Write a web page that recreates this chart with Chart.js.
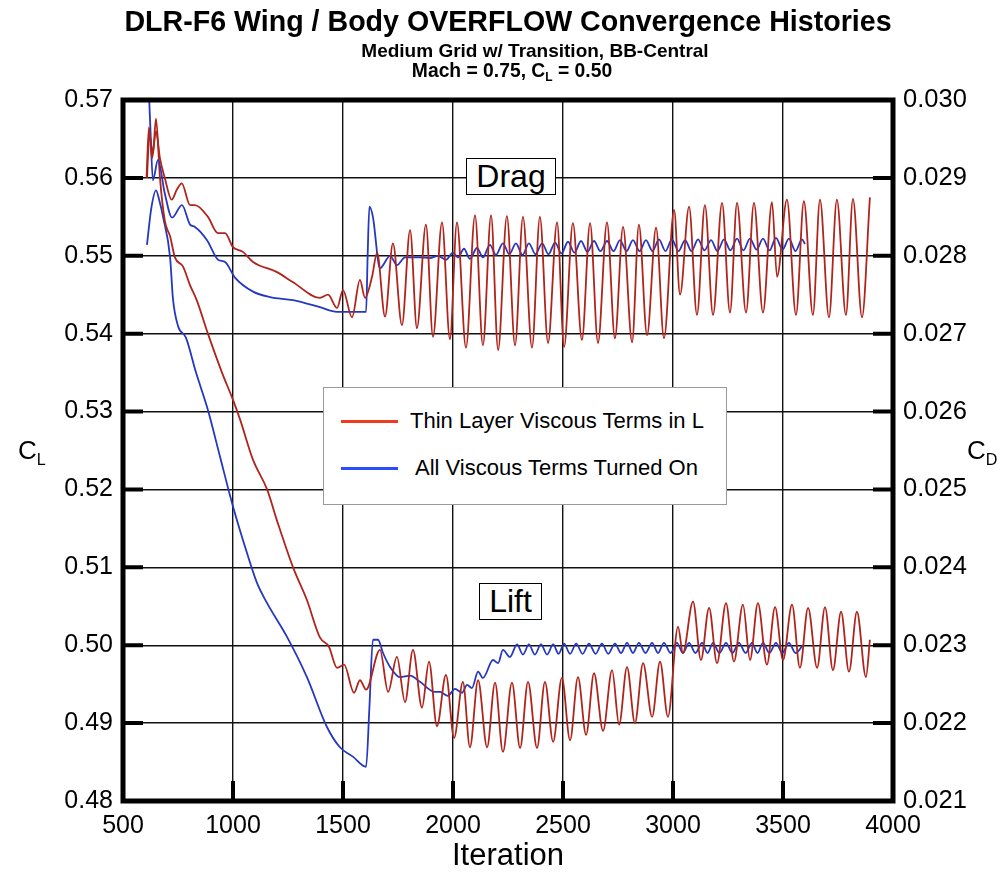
<!DOCTYPE html>
<html>
<head>
<meta charset="utf-8">
<script src="https://cdn.jsdelivr.net/npm/chart.js@4.4.1/dist/chart.umd.min.js"></script>
<style>
  body { margin: 0; background: #fff; font-family: "Liberation Sans", Arial, Helvetica, sans-serif; }
  #wrap { position: relative; width: 1005px; height: 872px; }
  .txt { position: absolute; white-space: nowrap; color: #000; }
  .title { text-align: center; font-weight: bold; }
  .box { position: absolute; background: #fff; box-sizing: border-box; }
  .tag { border: 1.5px solid #000; font-size: 32px; text-align: center; line-height: 34px; }
  .legline { position: absolute; height: 3px; width: 57px; }
  sub { font-size: 62%; vertical-align: -0.35em; }
</style>
</head>
<body>
<div id="wrap">
  <canvas id="chart" width="1005" height="872"></canvas>
  <div class="txt title" style="left:0;width:1016px;top:7px;font-size:28.6px;line-height:28px">DLR-F6 Wing / Body OVERFLOW Convergence Histories</div>
  <div class="txt title" style="left:235px;width:600px;top:41px;font-size:19px;line-height:19px">Medium Grid w/ Transition, BB-Central</div>
  <div class="txt title" style="left:212px;width:600px;top:61px;font-size:19.3px;line-height:19px">Mach = 0.75, C<sub>L</sub> = 0.50</div>
  <div class="txt" style="left:18px;top:436px;font-size:26px;line-height:28px">C<sub>L</sub></div>
  <div class="txt" style="left:967px;top:436px;font-size:26px;line-height:28px">C<sub>D</sub></div>
  <div class="box tag" style="left:466px;top:158px;width:90px;height:37px">Drag</div>
  <div class="box tag" style="left:479px;top:583px;width:63px;height:37px">Lift</div>
  <div class="box" style="left:323px;top:387px;width:404px;height:118px;border:1.5px solid #9a9a9a">
    <div class="legline" style="left:17px;top:32px;background:#f03c1e"></div>
    <div class="txt" style="left:86px;top:20px;font-size:22px;line-height:26px">Thin Layer Viscous Terms in L</div>
    <div class="legline" style="left:17px;top:79px;background:#2a4cff"></div>
    <div class="txt" style="left:91px;top:67px;font-size:22px;line-height:26px">All Viscous Terms Turned On</div>
  </div>
</div>
<script>
// iteration / value pairs
const dragThinIter = [607, 618, 632, 650, 668, 690, 721, 745, 767, 805, 827, 886, 932, 964, 1000, 1045, 1091, 1200, 1273, 1395,
  1432, 1473, 1500, 1541, 1577, 1600, 1632, 1655, 1691, 1727, 1768, 1805, 1836, 1877, 1909, 1950, 1986, 2018, 2059, 2100,
  2136, 2173, 2205, 2245, 2282, 2318, 2359, 2395, 2432, 2473, 2505, 2545, 2586, 2623, 2659, 2700, 2736, 2773, 2814, 2845,
  2882, 2923, 2959, 3005, 3032, 3073, 3109, 3145, 3182, 3223, 3259, 3291, 3332, 3368, 3409, 3450, 3473, 3518, 3559, 3595,
  3636, 3668, 3709, 3745, 3786, 3818, 3859, 3895]
const dragThin = [0.02900, 0.02965, 0.02925, 0.02960, 0.02925, 0.02900, 0.02872, 0.02885, 0.02893, 0.02865, 0.02865, 0.02850, 0.02829, 0.02829, 0.02811, 0.02805, 0.02792, 0.02779, 0.02766, 0.02746,
  0.02750, 0.02733, 0.02756, 0.02721, 0.02769, 0.02746, 0.02773, 0.02804, 0.02722, 0.02816, 0.02711, 0.02833, 0.02707, 0.02840, 0.02696, 0.02843, 0.02693, 0.02843, 0.02682, 0.02852,
  0.02685, 0.02852, 0.02679, 0.02851, 0.02685, 0.02850, 0.02682, 0.02850, 0.02688, 0.02843, 0.02683, 0.02842, 0.02692, 0.02842, 0.02688, 0.02843, 0.02694, 0.02837, 0.02689, 0.02840,
  0.02698, 0.02836, 0.02694, 0.02859, 0.02750, 0.02863, 0.02724, 0.02865, 0.02724, 0.02868, 0.02727, 0.02868, 0.02727, 0.02868, 0.02727, 0.02869, 0.02773, 0.02872, 0.02724, 0.02870,
  0.02724, 0.02872, 0.02721, 0.02872, 0.02724, 0.02873, 0.02721, 0.02875]

const dragAllIter = [612, 625, 636, 659, 690, 723, 768, 805, 827, 882, 932, 964, 1009, 1091, 1168, 1273, 1395, 1473, 1605, 1612,
  1620, 1636, 1668, 1714, 1745, 1782, 1850, 1895, 1932, 1968, 2000, 2023, 2050, 2077, 2109, 2136, 2168, 2195, 2227, 2256,
  2286, 2316, 2345, 2375, 2405, 2434, 2464, 2493, 2523, 2552, 2582, 2611, 2641, 2670, 2700, 2730, 2759, 2789, 2818, 2848,
  2877, 2907, 2936, 2966, 2995, 3025, 3055, 3084, 3114, 3143, 3173, 3202, 3232, 3261, 3291, 3320, 3350, 3380, 3409, 3439,
  3468, 3498, 3527, 3557, 3586, 3600]
const dragAll = [0.03050, 0.02960, 0.02897, 0.02923, 0.02880, 0.02849, 0.02865, 0.02840, 0.02837, 0.02820, 0.02795, 0.02792, 0.02772, 0.02754, 0.02747, 0.02743, 0.02734, 0.02728, 0.02728, 0.02800,
  0.02863, 0.02850, 0.02784, 0.02800, 0.02788, 0.02798, 0.02798, 0.02797, 0.02800, 0.02795, 0.02804, 0.02798, 0.02809, 0.02796, 0.02810, 0.02798, 0.02814, 0.02801, 0.02816, 0.02802,
  0.02816, 0.02801, 0.02816, 0.02802, 0.02816, 0.02802, 0.02817, 0.02803, 0.02818, 0.02804, 0.02819, 0.02805, 0.02819, 0.02806, 0.02819, 0.02806, 0.02820, 0.02806, 0.02820, 0.02806,
  0.02820, 0.02806, 0.02821, 0.02806, 0.02821, 0.02806, 0.02820, 0.02806, 0.02821, 0.02807, 0.02820, 0.02806, 0.02821, 0.02807, 0.02822, 0.02807, 0.02822, 0.02808, 0.02822, 0.02807,
  0.02823, 0.02808, 0.02822, 0.02806, 0.02821, 0.02815]

const liftThinIter = [609, 620, 636, 650, 668, 690, 714, 736, 773, 805, 835, 886, 950, 1000, 1032, 1091, 1155, 1200, 1273, 1336,
  1395, 1436, 1473, 1505, 1550, 1577, 1605, 1668, 1705, 1745, 1782, 1818, 1859, 1891, 1927, 1968, 2005, 2045, 2077, 2114,
  2155, 2191, 2227, 2268, 2305, 2341, 2382, 2418, 2455, 2495, 2532, 2568, 2605, 2641, 2682, 2723, 2755, 2791, 2827, 2864,
  2905, 2941, 2977, 3023, 3045, 3091, 3127, 3164, 3200, 3241, 3277, 3318, 3350, 3386, 3427, 3464, 3500, 3541, 3577, 3614,
  3655, 3691, 3727, 3764, 3800, 3836, 3877, 3895]
const liftThin = [0.5600, 0.5655, 0.5632, 0.5676, 0.5600, 0.5545, 0.5525, 0.5498, 0.5486, 0.5462, 0.5443, 0.5400, 0.5350, 0.5315, 0.5290, 0.5238, 0.5200, 0.5160, 0.5100, 0.5058,
  0.5010, 0.4998, 0.4971, 0.4975, 0.4939, 0.4955, 0.4943, 0.4994, 0.4940, 0.4985, 0.4927, 0.4994, 0.4920, 0.4979, 0.4896, 0.4962, 0.4881, 0.4953, 0.4869, 0.4955,
  0.4869, 0.4952, 0.4863, 0.4952, 0.4868, 0.4953, 0.4868, 0.4953, 0.4876, 0.4958, 0.4878, 0.4959, 0.4885, 0.4964, 0.4890, 0.4968, 0.4898, 0.4972, 0.4900, 0.4977,
  0.4908, 0.4979, 0.4908, 0.5024, 0.4990, 0.5056, 0.4981, 0.5048, 0.4977, 0.5054, 0.4979, 0.5052, 0.4981, 0.5054, 0.4975, 0.5049, 0.4981, 0.5052, 0.4971, 0.5048,
  0.4971, 0.5049, 0.4968, 0.5043, 0.4966, 0.5043, 0.4959, 0.5007]

const liftAllIter = [609, 628, 650, 666, 682, 714, 727, 750, 786, 832, 886, 941, 1000, 1064, 1109, 1155, 1245, 1336, 1427, 1486,
  1545, 1605, 1620, 1636, 1659, 1682, 1714, 1759, 1805, 1850, 1918, 1941, 1977, 2009, 2041, 2064, 2086, 2114, 2136, 2182,
  2205, 2227, 2259, 2291, 2318, 2345, 2372, 2400, 2428, 2455, 2480, 2505, 2532, 2560, 2589, 2618, 2648, 2677, 2706, 2736,
  2764, 2791, 2818, 2845, 2875, 2905, 2932, 2959, 2989, 3018, 3045, 3073, 3102, 3132, 3157, 3182, 3211, 3241, 3270, 3300,
  3330, 3359, 3384, 3409, 3438, 3468, 3497, 3527, 3557, 3590]
const liftAll = [0.5514, 0.5560, 0.5584, 0.5570, 0.5550, 0.5498, 0.5445, 0.5410, 0.5395, 0.5350, 0.5302, 0.5242, 0.5178, 0.5118, 0.5080, 0.5054, 0.5011, 0.4959, 0.4895, 0.4869,
  0.4857, 0.4844, 0.4920, 0.5007, 0.5007, 0.4990, 0.4972, 0.4959, 0.4961, 0.4953, 0.4940, 0.4940, 0.4935, 0.4944, 0.4939, 0.4949, 0.4945, 0.4966, 0.4958, 0.4981,
  0.4977, 0.4994, 0.4985, 0.5001, 0.4988, 0.5001, 0.4988, 0.5001, 0.4988, 0.5001, 0.4989, 0.5002, 0.4989, 0.5002, 0.4989, 0.5002, 0.4989, 0.5002, 0.4989, 0.5002,
  0.4990, 0.5003, 0.4990, 0.5003, 0.4990, 0.5003, 0.4990, 0.5003, 0.4990, 0.5003, 0.4990, 0.5003, 0.4990, 0.5003, 0.4990, 0.5003, 0.4990, 0.5003, 0.4990, 0.5003,
  0.4990, 0.5003, 0.4990, 0.5003, 0.4990, 0.5003, 0.4990, 0.5003, 0.4990, 0.5000]

const iterTicks = [500, 1000, 1500, 2000, 2500, 3000, 3500, 4000]

const RED = "#b0241b"
const BLUE = "#2438c0"

const points = (xs, ys) => xs.map((x, i) => ({ x, y: ys[i] }))

const series = (data, color, axis) => ({
  data, yAxisID: axis,
  borderColor: color, borderWidth: 1.8,
  pointRadius: 0, fill: false,
  cubicInterpolationMode: "monotone"
})

// heavy frame plus the short inward tick marks
const frame = {
  id: "frame",
  afterDatasetsDraw(chart) {
    const { ctx, chartArea: a, scales } = chart
    ctx.save()
    ctx.strokeStyle = "#000"
    ctx.lineWidth = 4
    ctx.beginPath()
    scales.yL.ticks.forEach(t => {
      const y = scales.yL.getPixelForValue(t.value)
      ctx.moveTo(a.left, y); ctx.lineTo(a.left + 20, y)
    })
    scales.yR.ticks.forEach(t => {
      const y = scales.yR.getPixelForValue(t.value)
      ctx.moveTo(a.right, y); ctx.lineTo(a.right - 20, y)
    })
    scales.x.ticks.forEach(t => {
      const x = scales.x.getPixelForValue(t.value)
      ctx.moveTo(x, a.bottom); ctx.lineTo(x, a.bottom - 20)
    })
    ctx.stroke()
    ctx.lineWidth = 5
    ctx.strokeRect(a.left, a.top, a.right - a.left, a.bottom - a.top)
    ctx.restore()
  }
}

Chart.defaults.font.family = '"Liberation Sans", Arial, Helvetica, sans-serif'
Chart.defaults.color = "#000"

new Chart(document.getElementById("chart"), {
  type: "line",
  data: {
    datasets: [
      series(points(dragThinIter, dragThin), RED, "yR"),
      series(points(dragAllIter, dragAll), BLUE, "yR"),
      series(points(liftThinIter, liftThin), RED, "yL"),
      series(points(liftAllIter, liftAll), BLUE, "yL")
    ]
  },
  options: {
    responsive: false,
    animation: false,
    layout: { padding: { top: 100, left: 0, right: 0, bottom: 0 } },
    plugins: { legend: { display: false }, tooltip: { enabled: false } },
    scales: {
      x: {
        type: "linear", min: 500, max: 4000,
        afterBuildTicks: s => { s.ticks = iterTicks.map(v => ({ value: v })) },
        afterFit: s => { s.height = 71 },
        grid: { color: "#111", lineWidth: 1.4, drawTicks: false },
        border: { display: false },
        ticks: { font: { size: 25 }, padding: 10, maxRotation: 0, callback: v => String(v) },
        title: { display: true, text: "Iteration", font: { size: 31, lineHeight: 1 }, padding: { top: 0, bottom: 0 } }
      },
      yL: {
        position: "left", min: 0.48, max: 0.57,
        afterFit: s => { s.width = 123 },
        grid: { color: "#111", lineWidth: 1.4, drawTicks: false },
        border: { display: false },
        ticks: { stepSize: 0.01, font: { size: 25 }, padding: 10, callback: v => v.toFixed(2) }
      },
      yR: {
        position: "right", min: 0.021, max: 0.030,
        afterFit: s => { s.width = 112 },
        grid: { display: false, drawTicks: false },
        border: { display: false },
        ticks: { stepSize: 0.001, font: { size: 25.5 }, padding: 10, callback: v => v.toFixed(3) }
      }
    }
  },
  plugins: [frame]
})
</script>
</body>
</html>
